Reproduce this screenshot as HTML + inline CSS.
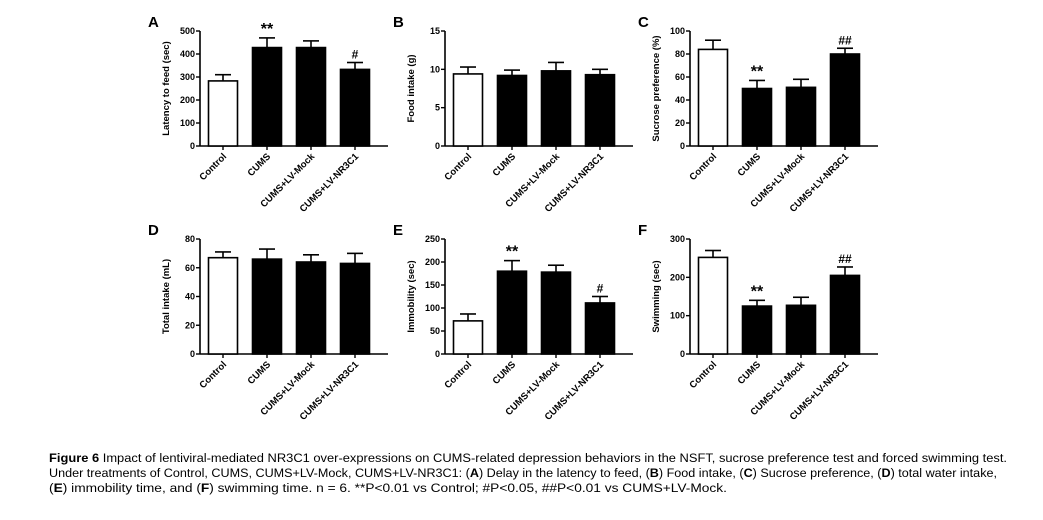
<!DOCTYPE html>
<html><head><meta charset="utf-8"><style>
body{margin:0;background:#fff;}
svg{display:block;font-family:"Liberation Sans",Arial,sans-serif;}
.tick{font-size:9px;font-weight:bold;}
.xl{font-size:9.5px;font-weight:bold;}
.yt{font-size:9.5px;font-weight:bold;}
.pl{font-size:15px;font-weight:bold;}
.cap{font-size:12.3px;}
</style></head><body>
<svg id="fig" width="1043" height="520">
<text class="cap" x="49" y="462" textLength="958" lengthAdjust="spacingAndGlyphs"><tspan font-weight="bold">Figure 6</tspan> Impact of lentiviral-mediated NR3C1 over-expressions on CUMS-related depression behaviors in the NSFT, sucrose preference test and forced swimming test.</text>
<text class="cap" x="49" y="477" textLength="948" lengthAdjust="spacingAndGlyphs">Under treatments of Control, CUMS, CUMS+LV-Mock, CUMS+LV-NR3C1: (<tspan font-weight="bold">A</tspan>) Delay in the latency to feed, (<tspan font-weight="bold">B</tspan>) Food intake, (<tspan font-weight="bold">C</tspan>) Sucrose preference, (<tspan font-weight="bold">D</tspan>) total water intake,</text>
<text class="cap" x="49" y="492" textLength="678" lengthAdjust="spacingAndGlyphs">(<tspan font-weight="bold">E</tspan>) immobility time, and (<tspan font-weight="bold">F</tspan>) swimming time. n = 6. **P&lt;0.01 vs Control; #P&lt;0.05, ##P&lt;0.01 vs CUMS+LV-Mock.</text>
</svg>
<script>
const categories=["Control","CUMS","CUMS+LV-Mock","CUMS+LV-NR3C1"];
const valuesA=[283,428,428,333], errA=[27,42,29,30], marksA=["","**","","#"], ticksA=[0,100,200,300,400,500];
const valuesB=[9.4,9.2,9.8,9.3], errB=[0.9,0.7,1.1,0.7], marksB=["","","",""], ticksB=[0,5,10,15];
const valuesC=[84,50,51,80], errC=[8,7,7,5], marksC=["","**","","##"], ticksC=[0,20,40,60,80,100];
const valuesD=[67,66,64,63], errD=[4,7,5,7], marksD=["","","",""], ticksD=[0,20,40,60,80];
const valuesE=[72,180,178,111], errE=[15,23,15,14], marksE=["","**","","#"], ticksE=[0,50,100,150,200,250];
const valuesF=[252,125,127,205], errF=[18,15,21,22], marksF=["","**","","##"], ticksF=[0,100,200,300];
const NS="http://www.w3.org/2000/svg";
const svg=document.getElementById('fig');
function mk(tag,attrs,parent){const e=document.createElementNS(NS,tag);for(const k in attrs)e.setAttribute(k,attrs[k]);(parent||svg).appendChild(e);return e;}
function panel(letter,ax,y0,y1,vals,errs,marks,ticks,title){
  const g=mk('g',{});
  
  
  const max=ticks[ticks.length-1];
  const ys=v=>y0-(v/max)*(y0-y1);
  const xc=i=>ax+23+i*44;
  const L=mk('text',{x:ax-52,y:y1-4,class:'pl'},g);L.textContent=letter;
  
  
  const yt=mk('text',{class:'yt','text-anchor':'middle',transform:`translate(${ax-31},${(y0+y1)/2}) rotate(-90)`},g);yt.textContent=title;
  
  
  const yaxis=mk('line',{x1:ax,y1:y1,x2:ax,y2:y0,stroke:'#000','stroke-width':1.6},g);
  
  
  const xaxis=mk('line',{x1:ax,y1:y0,x2:ax+188,y2:y0,stroke:'#000','stroke-width':1.6},g);
  
  
  ticks.forEach(t=>{
    mk('line',{x1:ax-4,y1:ys(t),x2:ax,y2:ys(t),stroke:'#000','stroke-width':1.4},g);
    const tl=mk('text',{x:ax-5,y:ys(t)+3,class:'tick','text-anchor':'end'},g);tl.textContent=t;
    
    
  });
  vals.forEach((v,i)=>{
    const x=xc(i), w=29;
    const top=ys(v+errs[i]);
    mk('line',{x1:x,y1:ys(v),x2:x,y2:top,stroke:'#000','stroke-width':1.6},g);
    mk('line',{x1:x-8,y1:top,x2:x+8,y2:top,stroke:'#000','stroke-width':1.6},g);
    const b=mk('rect',{x:x-w/2,y:ys(v),width:w,height:y0-ys(v),fill:i==0?'#fff':'#000',stroke:'#000','stroke-width':1.6},g);
    
    
    mk('line',{x1:x,y1:y0,x2:x,y2:y0+4,stroke:'#000','stroke-width':1.4},g);
    const xl=mk('text',{class:'xl','text-anchor':'end',transform:`translate(${x+4},${y0+11}) rotate(-45)`},g);xl.textContent=categories[i];
    
    
    if(marks[i]){const m=mk('text',{x:x,y:top-4,'text-anchor':'middle','font-size':marks[i][0]=='*'?16:12,'font-weight':'bold'},g);m.textContent=marks[i];
      
      }
  });
}
panel('A',200,146,31,valuesA,errA,marksA,ticksA,'Latency to feed (sec)');
panel('B',445,146,31,valuesB,errB,marksB,ticksB,'Food intake (g)');
panel('C',690,146,31,valuesC,errC,marksC,ticksC,'Sucrose preference (%)');
panel('D',200,354,239,valuesD,errD,marksD,ticksD,'Total intake (mL)');
panel('E',445,354,239,valuesE,errE,marksE,ticksE,'Immobility (sec)');
panel('F',690,354,239,valuesF,errF,marksF,ticksF,'Swimming (sec)');
</script>
</body></html>
